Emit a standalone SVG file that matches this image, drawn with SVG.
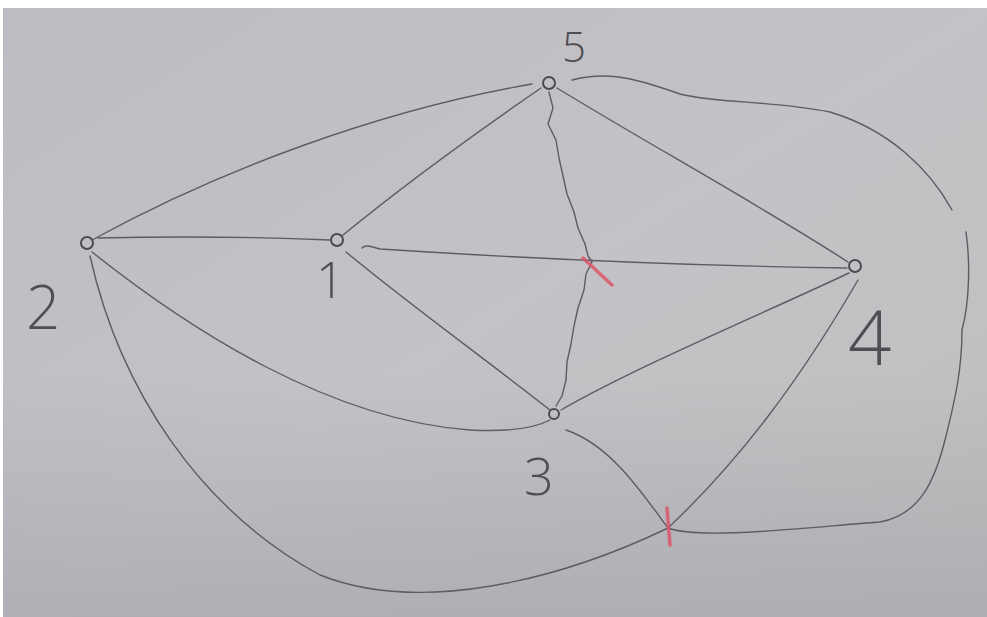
<svg xmlns="http://www.w3.org/2000/svg" width="987" height="617" viewBox="0 0 987 617">
<defs>
<linearGradient id="paper" x1="0" y1="0" x2="1" y2="1">
<stop offset="0" stop-color="#bdbcc2"/>
<stop offset="0.5" stop-color="#c3c2c6"/>
<stop offset="1" stop-color="#bfbfbe"/>
</linearGradient>
<linearGradient id="shade" x1="0" y1="0" x2="0" y2="1">
<stop offset="0.6" stop-color="#9d9ca6" stop-opacity="0"/>
<stop offset="1" stop-color="#9d9ca6" stop-opacity="0.5"/>
</linearGradient>
<style>
.e{fill:none;stroke:#5c5c61;stroke-width:1.4;stroke-linecap:round;stroke-linejoin:round}
.n{fill:none;stroke:#4a4a50;stroke-width:2}
.l{font-family:"Open Sans","DejaVu Sans",sans-serif;font-weight:300;fill:#4e4e54}
.r{fill:none;stroke:#d9566a;stroke-width:3.5;stroke-linecap:round;opacity:0.85}
</style>
</defs>
<rect width="987" height="617" fill="#ffffff"/>
<rect x="3" y="8" width="984" height="609" fill="url(#paper)"/>
<rect x="3" y="8" width="984" height="609" fill="url(#shade)"/>
<g id="connectors">
<path class="e" d="M92,240 C220,170 380,110 532,84"/>
<path class="e" d="M98,238 C180,236 260,237 330,240"/>
<path class="e" d="M343,235 C410,180 480,130 541,88"/>
<path class="e" d="M557,88 C650,145 760,205 848,262"/>
<path class="e" d="M362,248 C366,244 372,247 380,249 C520,258 700,266 847,268"/>
<path class="e" d="M549,92 L553,108 L548,124 L556,140 L559,158 L563,176 L567,194 L574,212 L578,228 L585,244 L588,256 L592,262 L586,274 L584,290 L578,308 L574,326 L571,344 L567,362 L566,380 L562,396 L556,406"/>
<path class="e" d="M346,252 C410,305 480,355 550,410"/>
<path class="e" d="M849,273 C760,315 640,365 561,410"/>
<path class="e" d="M92,252 C190,330 330,420 470,430 C510,432 535,428 550,420"/>
<path class="e" d="M90,256 C120,390 200,510 320,575 C420,615 560,580 668,528 C740,460 800,380 858,280"/>
<path class="e" d="M566,430 C610,445 640,490 668,528 C700,540 800,528 880,522 C920,515 935,480 945,440 C955,400 962,370 962,330 C970,300 970,260 966,232"/>
<path class="e" d="M952,210 C930,170 890,130 830,112 C770,100 720,104 680,94 C640,80 610,70 572,80"/>
<path class="r" d="M583,258 L612,285"/>
<path class="r" d="M667,508 L670,545"/>
</g>
<g id="node5"><circle class="n" cx="549" cy="83" r="6"/><text class="l" x="562" y="62" font-size="42">5</text></g>
<g id="node2"><circle class="n" cx="87" cy="243" r="6"/><text class="l" x="26" y="329" font-size="60">2</text></g>
<g id="node1"><circle class="n" cx="337" cy="240" r="6"/><text class="l" x="316" y="298" font-size="50">1</text></g>
<g id="node4"><circle class="n" cx="855" cy="266" r="6"/><text class="l" x="848" y="365" font-size="76">4</text></g>
<g id="node3"><circle class="n" cx="554" cy="414" r="5"/><text class="l" x="524" y="495" font-size="52">3</text></g>
</svg>
